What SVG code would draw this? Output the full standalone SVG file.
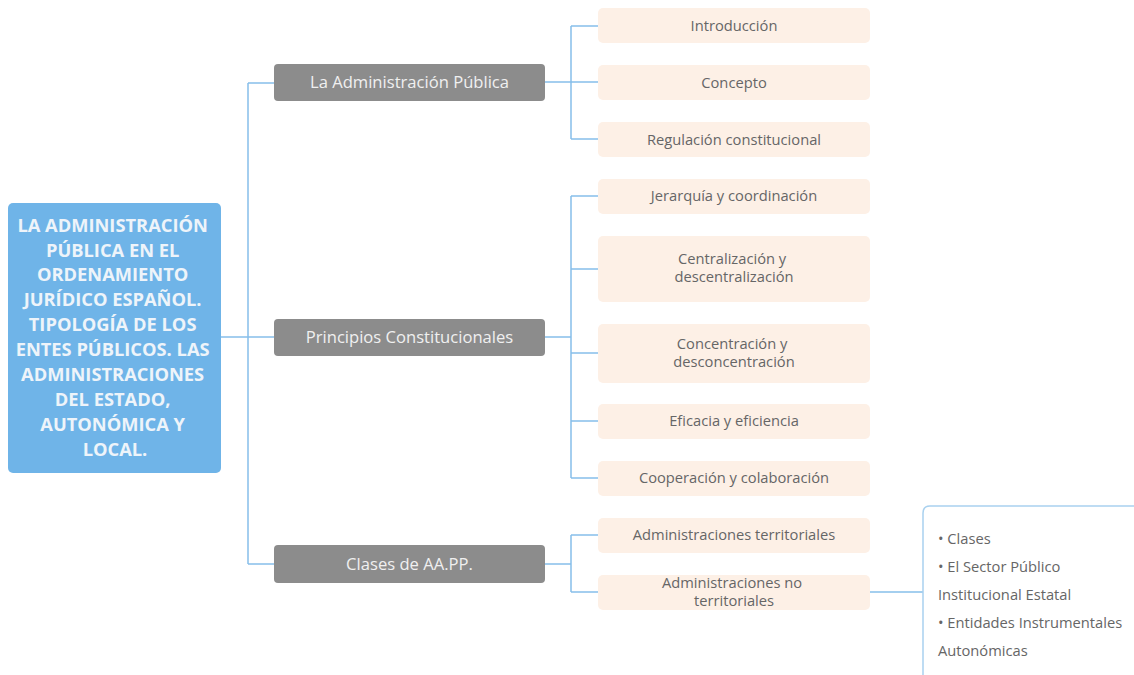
<svg xmlns="http://www.w3.org/2000/svg" width="1134" height="675" viewBox="0 0 1134 675">
  <style>
    .link { fill: none; stroke: #86bfea; stroke-width: 1.5; }
    .root { fill: #6fb4e8; }
    .root-text { font-family: "Open Sans", Lato, sans-serif; font-weight: bold; font-size: 18.3px; fill: #eef4fa; text-anchor: middle; }
    .topic { fill: #8c8c8c; }
    .topic-text { font-family: "Open Sans", Lato, sans-serif; font-size: 16.6px; fill: #f0f0f0; text-anchor: middle; }
    .sub { fill: #fdf0e6; }
    .sub-text { font-family: "Open Sans", Lato, sans-serif; font-size: 14.7px; fill: #666666; text-anchor: middle; }
    .note { fill: #ffffff; stroke: #a9d1ef; stroke-width: 1.5; }
    .note-text { font-family: "Open Sans", Lato, sans-serif; font-size: 14.7px; fill: #666666; }
  </style>

  <rect width="1134" height="675" fill="#ffffff"/>

  <!-- connectors -->
  <g id="connectors">
    <path class="link" d="M221 337 H248 M248 83 V564 M248 83 H274 M248 337 H274 M248 564 H274"/>
    <path class="link" d="M545 82 H571 M571 26 V139 M571 26 H598 M571 82 H598 M571 139 H598"/>
    <path class="link" d="M545 337 H571 M571 196 V478 M571 196 H598 M571 269 H598 M571 353 H598 M571 421 H598 M571 478 H598"/>
    <path class="link" d="M545 564 H571 M571 535 V592 M571 535 H598 M571 592 H598"/>
    <path class="link" d="M870 592 H923"/>
  </g>

  <!-- central topic -->
  <g id="root">
    <rect class="root" x="8" y="203" width="213" height="270" rx="5"/>
    <text class="root-text">
      <tspan x="115" y="232">LA ADMINISTRACIÓN</tspan>
      <tspan x="115" y="257">PÚBLICA EN EL</tspan>
      <tspan x="115" y="281">ORDENAMIENTO</tspan>
      <tspan x="115" y="306">JURÍDICO ESPAÑOL.</tspan>
      <tspan x="115" y="331">TIPOLOGÍA DE LOS</tspan>
      <tspan x="115" y="356">ENTES PÚBLICOS. LAS</tspan>
      <tspan x="115" y="381">ADMINISTRACIONES</tspan>
      <tspan x="115" y="406">DEL ESTADO,</tspan>
      <tspan x="115" y="431">AUTONÓMICA Y</tspan>
      <tspan x="115" y="456">LOCAL.</tspan>
    </text>
  </g>

  <!-- main branches -->
  <g id="topic-administracion">
    <rect class="topic" x="274" y="64" width="271" height="37" rx="4"/>
    <text class="topic-text" x="409.5" y="88">La Administración Pública</text>
  </g>
  <g id="topic-principios">
    <rect class="topic" x="274" y="319" width="271" height="37" rx="4"/>
    <text class="topic-text" x="409.5" y="343">Principios Constitucionales</text>
  </g>
  <g id="topic-clases">
    <rect class="topic" x="274" y="545" width="271" height="38" rx="4"/>
    <text class="topic-text" x="409.5" y="570">Clases de AA.PP.</text>
  </g>

  <!-- subtopics -->
  <g id="sub-introduccion">
    <rect class="sub" x="598" y="8" width="272" height="35" rx="5"/>
    <text class="sub-text" x="734" y="31">Introducción</text>
  </g>
  <g id="sub-concepto">
    <rect class="sub" x="598" y="65" width="272" height="35" rx="5"/>
    <text class="sub-text" x="734" y="88">Concepto</text>
  </g>
  <g id="sub-regulacion">
    <rect class="sub" x="598" y="122" width="272" height="35" rx="5"/>
    <text class="sub-text" x="734" y="145">Regulación constitucional</text>
  </g>
  <g id="sub-jerarquia">
    <rect class="sub" x="598" y="179" width="272" height="35" rx="5"/>
    <text class="sub-text" x="734" y="201">Jerarquía y coordinación</text>
  </g>
  <g id="sub-centralizacion">
    <rect class="sub" x="598" y="236" width="272" height="66" rx="5"/>
    <text class="sub-text">
      <tspan x="734" y="264">Centralización y</tspan>
      <tspan x="734" y="282">descentralización</tspan>
    </text>
  </g>
  <g id="sub-concentracion">
    <rect class="sub" x="598" y="324" width="272" height="59" rx="5"/>
    <text class="sub-text">
      <tspan x="734" y="349">Concentración y</tspan>
      <tspan x="734" y="367">desconcentración</tspan>
    </text>
  </g>
  <g id="sub-eficacia">
    <rect class="sub" x="598" y="404" width="272" height="35" rx="5"/>
    <text class="sub-text" x="734" y="426">Eficacia y eficiencia</text>
  </g>
  <g id="sub-cooperacion">
    <rect class="sub" x="598" y="461" width="272" height="35" rx="5"/>
    <text class="sub-text" x="734" y="483">Cooperación y colaboración</text>
  </g>
  <g id="sub-territoriales">
    <rect class="sub" x="598" y="518" width="272" height="35" rx="5"/>
    <text class="sub-text" x="734" y="540">Administraciones territoriales</text>
  </g>
  <g id="sub-no-territoriales">
    <rect class="sub" x="598" y="575" width="272" height="35" rx="5"/>
    <text class="sub-text">
      <tspan x="734" y="588">Administraciones no</tspan>
      <tspan x="734" y="606">territoriales</tspan>
    </text>
  </g>

  <!-- note attached to non-territorial administrations -->
  <g id="note-no-territoriales">
    <path class="note" d="M923 680 V513 Q923 506 930 506 H1140"/>
    <text class="note-text">
      <tspan x="938" y="544">• Clases</tspan>
      <tspan x="938" y="572">• El Sector Público</tspan>
      <tspan x="938" y="600">Institucional Estatal</tspan>
      <tspan x="938" y="628">• Entidades Instrumentales</tspan>
      <tspan x="938" y="656">Autonómicas</tspan>
    </text>
  </g>
</svg>
